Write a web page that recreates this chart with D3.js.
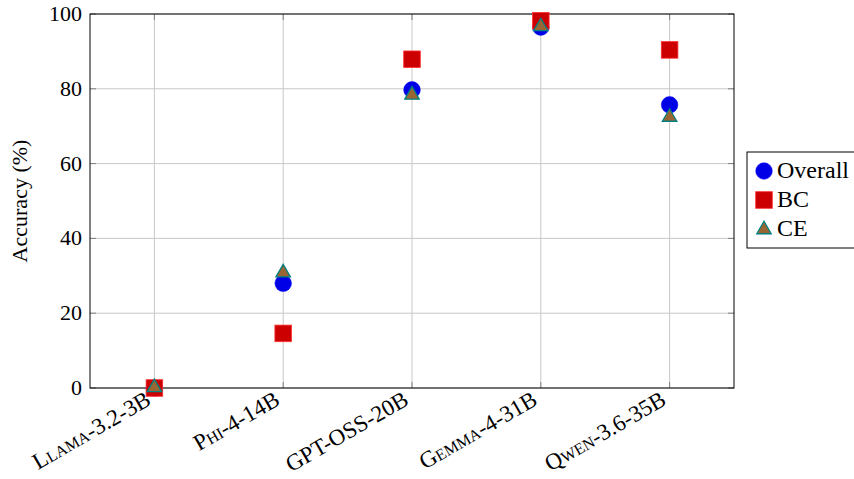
<!DOCTYPE html>
<html><head><meta charset="utf-8">
<script src="https://cdn.jsdelivr.net/npm/d3@7"></script>
<style>body{margin:0;background:#fff;}</style></head>
<body><svg id="chart" width="854" height="479"></svg>
<script>
const categories = ["Llama-3.2-3B","Phi-4-14B","GPT-OSS-20B","Gemma-4-31B","Qwen-3.6-35B"];
const smallCaps = [true,true,false,true,true];
const overall = [0, 28.0, 79.7, 96.5, 75.7];
const bc = [0, 14.6, 87.9, 98.2, 90.4];
const ce = [0.3, 31.0, 78.5, 96.8, 72.6];
const yTicks = [0,20,40,60,80,100];
const seriesNames = ["Overall","BC","CE"];

const FONT = "Liberation Serif";
const svg = d3.select("#chart");
const L=90,R=734,T=14,B=388;
const x = d3.scaleLinear().domain([-0.5,4.5]).range([L,R]);
const y = d3.scaleLinear().domain([0,100]).range([B,T]);

const g = svg.append("g");
g.selectAll(".vg").data(categories).enter().append("line")
 .attr("x1",(d,i)=>x(i)).attr("x2",(d,i)=>x(i)).attr("y1",T).attr("y2",B)
 .attr("stroke","#c8c8c8").attr("stroke-width",1);
g.selectAll(".hg").data(yTicks).enter().append("line")
 .attr("x1",L).attr("x2",R).attr("y1",d=>y(d)).attr("y2",d=>y(d))
 .attr("stroke","#c8c8c8").attr("stroke-width",1);
const tl=6;
categories.forEach((c,i)=>{
  g.append("line").attr("x1",x(i)).attr("x2",x(i)).attr("y1",B).attr("y2",B-tl).attr("stroke","#808080");
  g.append("line").attr("x1",x(i)).attr("x2",x(i)).attr("y1",T).attr("y2",T+tl).attr("stroke","#808080");
});
yTicks.forEach(v=>{
  g.append("line").attr("x1",L).attr("x2",L+tl).attr("y1",y(v)).attr("y2",y(v)).attr("stroke","#808080");
  g.append("line").attr("x1",R).attr("x2",R-tl).attr("y1",y(v)).attr("y2",y(v)).attr("stroke","#808080");
});
svg.append("rect").attr("x",L).attr("y",T).attr("width",R-L).attr("height",B-T)
 .attr("fill","none").attr("stroke","#000").attr("stroke-width",1);

svg.selectAll(".yl").data(yTicks).enter().append("text")
 .attr("x",L-8).attr("y",d=>y(d)+7).attr("text-anchor","end")
 .attr("font-family",FONT).attr("font-size",22).attr("fill","#000").text(d=>d);
svg.append("text").attr("transform",`translate(27,${(T+B)/2}) rotate(-90)`)
 .attr("text-anchor","middle").attr("font-family",FONT).attr("font-size",22).attr("fill","#000").text("Accuracy (%)");

categories.forEach((c,i)=>{
  const t = svg.append("text").attr("transform",`translate(${x(i)-6},${B+9}) rotate(-30)`)
   .attr("text-anchor","end").attr("x",0).attr("y",8)
   .attr("font-family",FONT).attr("font-size",23).attr("fill","#000");
  if(smallCaps[i]) t.style("font-variant","small-caps");
  t.text(c);
});

function drawCircle(sel,cx,cy){ sel.append("circle").attr("cx",cx).attr("cy",cy).attr("r",8.3).attr("fill","#0000e6").attr("stroke","#0000ff").attr("stroke-width",0.5); }
function drawSquare(sel,cx,cy){ sel.append("rect").attr("x",cx-8.3).attr("y",cy-8.3).attr("width",16.6).attr("height",16.6).attr("fill","#cc0000").attr("stroke","#ff3333").attr("stroke-width",0.8); }
function drawTri(sel,cx,cy){ const h=12.5,w=14.5; sel.append("path").attr("d",`M${cx},${cy-h*0.62}L${cx+w/2},${cy+h*0.38}L${cx-w/2},${cy+h*0.38}Z`).attr("fill","#996633").attr("stroke","#008080").attr("stroke-width",1.3); }

const m = svg.append("g");
overall.forEach((v,i)=>drawCircle(m,x(i),y(v)));
bc.forEach((v,i)=>drawSquare(m,x(i),y(v)));
ce.forEach((v,i)=>drawTri(m,x(i),y(v)));

const lg = svg.append("g");
lg.append("rect").attr("x",747).attr("y",152).attr("width",112).attr("height",96)
 .attr("fill","#fff").attr("stroke","#000").attr("stroke-width",1);
const drawers=[drawCircle,drawSquare,drawTri];
seriesNames.forEach((s,i)=>{
  const cy = 171 + i*29;
  drawers[i](lg,764,cy);
  lg.append("text").attr("x",777).attr("y",cy+7).attr("font-family",FONT).attr("font-size",24).attr("fill","#000").text(s);
});
</script></body></html>
